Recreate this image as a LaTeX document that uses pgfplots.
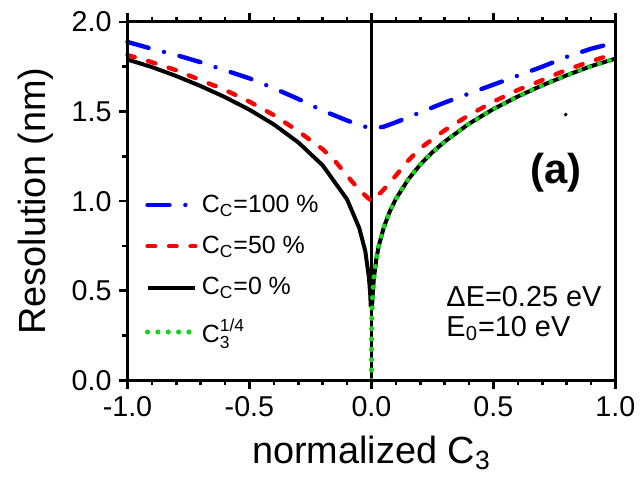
\documentclass[border=0pt]{standalone}
\usepackage{fontspec}
\setmainfont{Liberation Sans}
\usepackage{amsmath}
\usepackage{pgfplots}
\pgfplotsset{compat=1.18}
\definecolor{cblue}{RGB}{0,0,255}
\definecolor{cred}{RGB}{255,0,0}
\definecolor{cgreen}{RGB}{25,210,25}
\newcommand\tickfont{\fontsize{14.4}{17}\selectfont}
\newcommand\labfont{\fontsize{19}{22}\selectfont}
\newcommand\legfont{\fontsize{12.5}{15}\selectfont}
\newcommand\annfont{\fontsize{14.5}{17}\selectfont}

\begin{document}
\begin{tikzpicture}
\begin{axis}[
  width=245pt, height=180pt, scale only axis,
  xmin=-1, xmax=1, ymin=0, ymax=2,
  xtick={-1,-0.5,0,0.5,1}, ytick={0,0.5,1,1.5,2},
  minor x tick num=4, minor y tick num=1,
  xtick pos=both, ytick pos=left,
  tick align=outside,
  major tick length=4.5pt, minor tick length=2.5pt,
  axis line style={black, line width=1.6pt},
  tick style={black, line width=1.3pt},
  xticklabel style={font=\tickfont, /pgf/number format/.cd, fixed, fixed zerofill, precision=1, assume math mode=true},
  yticklabel style={font=\tickfont, /pgf/number format/.cd, fixed, fixed zerofill, precision=1, assume math mode=true},
  xlabel={normalized C\textsubscript{3}},
  ylabel={Resolution (nm)},
  label style={font=\labfont},
  xlabel style={at={(axis description cs:0.5,0)}, anchor=base, yshift=-41.5pt},
  ylabel style={at={(axis description cs:0,0.5)}, anchor=base, yshift=41pt},
  clip=false,
  legend style={draw=none, fill=none, at={(axis cs:-0.93,1.06)}, anchor=north west,
    font=\legfont, row sep=6.5pt, inner sep=0pt,
    /tikz/every even column/.append style={column sep=9pt}},
  legend cell align=left,
  legend image code/.code={\draw[#1] (0pt,0pt) -- (24pt,0pt);},
]
\addplot[black, solid, line width=1.2pt, forget plot] coordinates {(0,0) (0,2)};

% C_C = 100 %
\addplot[cblue, line width=2.2pt, line cap=round,
  dash pattern=on 11pt off 8pt on 0pt off 8pt] coordinates {
(-1,1.888) (-0.9,1.85) (-0.8,1.815) (-0.7,1.775) (-0.6,1.73) (-0.5,1.685)
(-0.4,1.63) (-0.3,1.57) (-0.2,1.505) (-0.1,1.45) (-0.05,1.425) (0,1.405)
(0.05,1.415) (0.1,1.44) (0.2,1.495) (0.3,1.55) (0.4,1.6) (0.5,1.65)
(0.6,1.7) (0.7,1.75) (0.8,1.805) (0.9,1.85) (1,1.885)
};
% C_C = 50 %
\addplot[cred, line width=2.2pt, line cap=round,
  dash pattern=on 3.8pt off 7pt] coordinates {
(-1,1.815) (-0.9,1.775) (-0.8,1.73) (-0.7,1.675) (-0.6,1.62) (-0.5,1.555)
(-0.4,1.48) (-0.3,1.39) (-0.2,1.29) (-0.15,1.225) (-0.08,1.11) (-0.04,1.05)
(-0.02,1.025) (0,1.0) (0.02,1.025) (0.04,1.05) (0.08,1.11) (0.15,1.225)
(0.2,1.295) (0.3,1.395) (0.4,1.48) (0.5,1.555) (0.6,1.62) (0.7,1.675)
(0.8,1.733) (0.9,1.78) (1,1.825)
};
% C_C = 0 %
\addplot[black, solid, line width=2pt] coordinates {
(-1,1.79) (-0.9,1.748) (-0.8,1.698) (-0.7,1.642) (-0.6,1.58) (-0.5,1.51)
(-0.4,1.428) (-0.3,1.328) (-0.2,1.2) (-0.1,1.01) (-0.05,0.85) (-0.025,0.72)
(-0.01,0.57) (-0.005,0.48) (-0.003,0.42)
(0.003,0.42) (0.005,0.479) (0.01,0.569) (0.02,0.677) (0.03,0.749) (0.05,0.851)
(0.075,0.942) (0.1,1.012) (0.15,1.12) (0.2,1.204) (0.25,1.273) (0.3,1.332)
(0.4,1.432) (0.5,1.514) (0.6,1.584) (0.7,1.646) (0.8,1.702) (0.9,1.753) (1,1.795)
};
% C3^(1/4)
\addplot[cgreen, line width=2.6pt, line cap=round,
  dash pattern=on 0pt off 5.2pt] coordinates {
(0,0) (0.00001,0.101) (0.0001,0.18) (0.001,0.32) (0.003,0.421) (0.005,0.479)
(0.01,0.569) (0.02,0.677) (0.03,0.749) (0.05,0.851) (0.075,0.942) (0.1,1.012)
(0.15,1.12) (0.2,1.204) (0.25,1.273) (0.3,1.332) (0.4,1.432) (0.5,1.514)
(0.6,1.584) (0.7,1.646) (0.8,1.702) (0.9,1.753) (1,1.795)
};
\addplot[only marks, solid, mark=*, mark size=0.7pt, black, forget plot] coordinates {(0.796,1.483)};

\legend{C\textsubscript{C}=100 \%, C\textsubscript{C}=50 \%, C\textsubscript{C}=0 \%,
  $\text{C}_{\text{3}}^{\text{1/4}}$}

% frame and ticks, drawn by hand
\draw[black, solid, line width=1.6pt, line join=miter] (rel axis cs:0,0) rectangle (rel axis cs:1,1);
\pgfplotsinvokeforeach{-1,-0.5,0,0.5,1}{
  \draw[black, solid, line cap=butt, line width=1.3pt] (axis cs:#1,0) -- ([yshift=-4.5pt]axis cs:#1,0);
  \draw[black, solid, line cap=butt, line width=1.3pt] (axis cs:#1,2) -- ([yshift=4.5pt]axis cs:#1,2);
}
\pgfplotsinvokeforeach{-0.9,-0.8,-0.7,-0.6,-0.4,-0.3,-0.2,-0.1,0.1,0.2,0.3,0.4,0.6,0.7,0.8,0.9}{
  \draw[black, solid, line cap=butt, line width=1.3pt] (axis cs:#1,0) -- ([yshift=-2.5pt]axis cs:#1,0);
  \draw[black, solid, line cap=butt, line width=1.3pt] (axis cs:#1,2) -- ([yshift=2.5pt]axis cs:#1,2);
}
\pgfplotsinvokeforeach{0,0.5,1,1.5,2}{
  \draw[black, solid, line cap=butt, line width=1.3pt] (axis cs:-1,#1) -- ([xshift=-4.5pt]axis cs:-1,#1);
}
\pgfplotsinvokeforeach{0.25,0.75,1.25,1.75}{
  \draw[black, solid, line cap=butt, line width=1.3pt] (axis cs:-1,#1) -- ([xshift=-2.5pt]axis cs:-1,#1);
}

\node[anchor=base west, font=\annfont, inner sep=0pt] at (axis cs:0.306,0.41) {ΔE=0.25 eV};
\node[anchor=base west, font=\annfont, inner sep=0pt] at (axis cs:0.306,0.245) {E\textsubscript{0}=10 eV};
\node[font=\fontsize{21}{24}\selectfont\bfseries] at (axis cs:0.755,1.16) {(a)};
\coordinate (bl) at (rel axis cs:0,0);
\coordinate (tr) at (rel axis cs:1,1);
\end{axis}
\path ([xshift=-64pt,yshift=-51pt]bl) rectangle ([xshift=12pt,yshift=11pt]tr);
\end{tikzpicture}
\end{document}
